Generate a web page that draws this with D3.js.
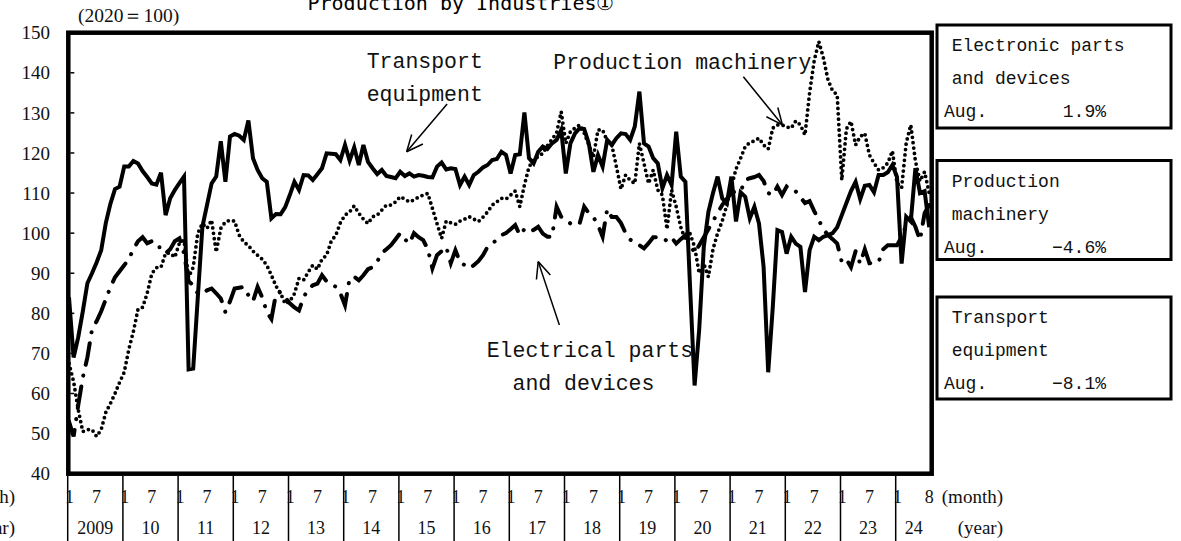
<!DOCTYPE html>
<html>
<head>
<meta charset="utf-8">
<script src="https://cdn.jsdelivr.net/npm/d3@7/dist/d3.min.js"></script>
<style>
  body { margin: 0; background: #fff; }
  svg { display: block; }
  .serif { font-family: "Liberation Serif", "DejaVu Serif", serif; fill: #111; }
  .mono { font-family: "Liberation Mono", "DejaVu Sans Mono", monospace; fill: #111; }
</style>
</head>
<body>
<svg id="chart" width="1181" height="541"></svg>
<script>
// monthly indices (2020=100), Jan 2009 .. Aug 2024
var years = ["2009","10","11","12","13","14","15","16","17","18","19","20","21","22","23","24"];
var yTicks = [40,50,60,70,80,90,100,110,120,130,140,150];

var transport = [
  84, 69, 74, 80.5, 87.5, 90, 92.7, 95.75, 102.5, 107.3, 111, 111.6,
  116.6, 116.6, 118, 117.4, 115.5, 114, 112.4, 112.1, 115.1, 104.5, 108.7, 110.75,
  112.5, 114.1, 66, 66.2, 84, 101.6, 107, 112.4, 114.1, 122.9, 112.8, 124.1,
  124.75, 124.3, 123.25, 128.1, 118.7, 115.75, 113.7, 112.8, 103.7, 104.75, 104.7, 106.5,
  109.5, 112.8, 110.75, 114.5, 114.4, 113.25, 114.7, 116.2, 119.9, 119.8, 119.7, 118.25,
  122, 118.1, 121.4, 117, 122, 117.8, 116.2, 114.75, 115.75, 114.25, 114, 113.7,
  115.3, 114.25, 114.9, 114.1, 114.5, 114.3, 114, 113.9, 116.6, 117.6, 115.9, 116.2,
  116, 112, 114.1, 112, 114.5, 115.3, 116.4, 117, 118.25, 118.5, 120.3, 119.5,
  114.9, 119.5, 119.7, 130.1, 118.7, 117.4, 120.3, 121.6, 121, 122.4, 123.25, 125.75,
  114.9, 122.4, 124.9, 126.2, 126, 122.4, 115.3, 119.5, 116.6, 123.25, 122, 123.7,
  124.9, 124.7, 123.25, 126.6, 135.3, 122.4, 121.6, 118.7, 117.4, 111.2, 114.5, 112,
  125.3, 114.1, 112.8, 87, 62, 76, 96.6, 105.3, 110, 114.1, 108.7, 107.4,
  114.1, 102.9, 110.2, 109.1, 103.7, 106.6, 102.4, 91.6, 65.3, 81.6, 100.75, 100.3,
  94.9, 99.1, 97.4, 96.6, 85.3, 95.75, 99.1, 98.25, 99.1, 99.5, 100, 101.5,
  104.5, 107.5, 110.5, 112.8, 108.5, 111.8, 112, 110.2, 114.5, 114.5, 115.2, 117,
  114, 92.4, 104.1, 102.9, 116.2, 110, 110.5, 101.5
];

var machinery = [
  67.5, 63, 56, 50.5, 51, 51, 49.3, 51, 55.3, 57.5, 60, 62.8,
  65.3, 71, 75.5, 81, 81.5, 85, 89.9, 91.4, 91.5, 95, 95, 94,
  97.5, 98.25, 89, 91.5, 100, 102.4, 101.2, 103.25, 95.3, 101.2, 102.8, 103.25,
  103, 99.5, 97.8, 96.9, 95.5, 94.5, 93.5, 92, 89.5, 86.8, 85, 82.4,
  83, 84.9, 88.7, 88.3, 90.3, 92, 91, 93.5, 94.5, 98, 99.5, 102.6,
  104.5, 105.3, 106.8, 105, 103.5, 102.4, 104.1, 104.5, 105.75, 107, 107, 107.8,
  109.1, 108.5, 107.8, 108.3, 109, 109.5, 109.9, 106.2, 102.4, 98.7, 103, 102.6,
  102.2, 103, 103.5, 104.1, 103.5, 102.9, 104, 105.3, 107, 107.8, 108.7, 108.5,
  109.5, 110.5, 106.6, 112, 116.5, 118.3, 119.1, 119.9, 121.8, 123.4, 125, 130.3,
  122.4, 125.3, 126.2, 127, 125, 122, 119, 125.75, 125.75, 123, 122, 116.6,
  111, 114.5, 113.2, 112.4, 122.4, 117.4, 112.4, 115.75, 110.75, 109.5, 101, 110.75,
  106.6, 101.5, 98.25, 99.9, 96.6, 90, 92.4, 89.1, 96, 100, 103, 107,
  111.6, 116, 118.7, 121.6, 122.6, 123, 123.7, 122, 121, 126.2, 127, 127,
  126.5, 126.2, 128, 127, 124.5, 135, 143, 147.8, 143.7, 138.25, 135.5, 134.5,
  113.25, 126, 127.9, 122, 124.1, 124.9, 119.5, 117.5, 115.75, 116.3, 117.5, 120.5,
  112.5, 111.3, 122.5, 127, 118, 113, 115.3, 110
];

var electronic = [
  53, 49.3, 57, 64, 69, 76, 78, 80.5, 83.5, 86.5, 89, 90.5,
  92, 93.5, 96, 98, 99, 97.5, 98, 96.5, 96.5, 95, 96, 98,
  98.7, 95, 88, 87, 84.9, 84.9, 85.75, 86.2, 85, 83.7, 80.3, 83,
  86.2, 86.4, 86.6, 84.5, 83, 86.6, 84, 80.3, 78.6, 84.9, 85.3, 84,
  82.5, 81.5, 80.75, 84, 86, 87, 87.4, 89.5, 88, 87.4, 86.6, 85,
  82, 88.7, 89.1, 88.25, 89.5, 91, 91.5, 92.9, 95, 96, 97, 98.5,
  100, 98.5, 97.4, 100, 99, 98.25, 96, 91.2, 94.5, 95.5, 96.6, 92.5,
  95.75, 92.8, 92, 91.2, 92, 93, 94.5, 96.6, 97.5, 98.25, 99.5, 100,
  101, 102, 99.5, 101, 100.3, 100.8, 101.6, 99.9, 99.1, 99.1, 106.6, 104.1,
  103.5, 102.4, 102, 102.4, 106.6, 105, 104, 102, 99.1, 106, 104, 104,
  102.5, 100, 98.4, 97.5, 97, 96.2, 97.5, 99, 99, 99, 98, 98.9,
  97.4, 98.5, 99.5, 97.5, 95, 97, 99, 101, 103, 105, 107, 108.5,
  110, 110.5, 110.4, 113.25, 113.7, 114, 114.5, 113, 110, 109.5, 111.6, 109.5,
  111.6, 110.5, 110.4, 109, 107.5, 108, 105.5, 103.25, 101, 99.5, 98.5, 97.4,
  92.8, 93.5, 91.5, 95.5, 92.4, 96, 92.5, 92.6, 92.8, 96, 97, 97,
  97, 99, 102, 104, 101.6, 98.25, 105, 107
];

var boxNames = [["Electronic parts", "and devices"], ["Production", "machinery"], ["Transport", "equipment"]];
var boxChanges = ["1.9%", "\u22124.6%", "\u22128.1%"];

var svg = d3.select("#chart");
var W = 1181, H = 541;
var plot = {left: 68.3, top: 32.7, right: 931.7, bottom: 473.7};

var n = transport.length;
var x = d3.scaleLinear().domain([0, n - 1]).range([69, 929.2]);
var y = d3.scaleLinear().domain([40, 150]).range([plot.bottom, plot.top]);

// title (cut at the top edge, like the source)
svg.append("text")
  .attr("x", 461).attr("y", 10)
  .attr("text-anchor", "middle")
  .attr("font-family", "'DejaVu Sans Mono', monospace")
  .attr("font-size", 20)
  .text("Production by Industries\u2460");

svg.append("text").attr("class", "serif")
  .attr("x", 78).attr("y", 22)
  .attr("font-size", 19.5)
  .text("(2020\uFF1D100)");

// y axis labels + small inner ticks
svg.append("g").selectAll("text")
  .data(yTicks).enter().append("text")
  .attr("class", "serif")
  .attr("x", 50).attr("y", function(d) { return y(d); })
  .attr("dy", "0.35em")
  .attr("text-anchor", "end")
  .attr("font-size", 19)
  .text(function(d) { return d; });

svg.append("g").selectAll("line")
  .data(yTicks.slice(1, -1)).enter().append("line")
  .attr("x1", plot.left + 2).attr("x2", plot.left + 6)
  .attr("y1", function(d) { return y(d); })
  .attr("y2", function(d) { return y(d); })
  .attr("stroke", "#000").attr("stroke-width", 1.5);

// x axis: year cells below the plot
var divX = function(k) { return x(12 * k) - 1.3; };
var gx = svg.append("g");
gx.selectAll("line")
  .data(years).enter().append("line")
  .attr("x1", function(d, k) { return divX(k); })
  .attr("x2", function(d, k) { return divX(k); })
  .attr("y1", plot.bottom + 2).attr("y2", H)
  .attr("stroke", "#000").attr("stroke-width", 1.5);

gx.selectAll("text.m1")
  .data(years).enter().append("text")
  .attr("class", "serif m1")
  .attr("x", function(d, k) { return x(12 * k) + 0.5; })
  .attr("y", 503).attr("text-anchor", "middle").attr("font-size", 18)
  .text("1");

gx.selectAll("text.m7")
  .data(years).enter().append("text")
  .attr("class", "serif m7")
  .attr("x", function(d, k) { return k < years.length - 1 ? x(12 * k + 6) : x(n - 1); })
  .attr("y", 503).attr("text-anchor", "middle").attr("font-size", 18)
  .text(function(d, k) { return k < years.length - 1 ? "7" : String(n - 12 * k); });

gx.selectAll("text.yr")
  .data(years).enter().append("text")
  .attr("class", "serif yr")
  .attr("x", function(d, k) {
    var right = k < years.length - 1 ? divX(k + 1) : plot.right;
    return (divX(k) + right) / 2;
  })
  .attr("y", 534).attr("text-anchor", "middle").attr("font-size", 18)
  .text(function(d) { return d; });

[["(month)", 503], ["(year)", 534]].forEach(function(t) {
  svg.append("text").attr("class", "serif")
    .attr("x", 1003).attr("y", t[1]).attr("text-anchor", "end")
    .attr("font-size", 19).text(t[0]);
  svg.append("text").attr("class", "serif")
    .attr("x", 15).attr("y", t[1]).attr("text-anchor", "end")
    .attr("font-size", 19).text(t[0]);
});

// series
var line = d3.line()
  .x(function(d, i) { return x(i); })
  .y(function(d) { return y(d); });

svg.append("path").datum(electronic)
  .attr("d", line).attr("fill", "none")
  .attr("stroke", "#000").attr("stroke-width", 4)
  .attr("stroke-linecap", "round")
  .attr("stroke-dasharray", "22,11,0.1,11");

svg.append("path").datum(machinery)
  .attr("d", line).attr("fill", "none")
  .attr("stroke", "#000").attr("stroke-width", 3.8)
  .attr("stroke-linecap", "round")
  .attr("stroke-dasharray", "0,5.4");

svg.append("path").datum(transport)
  .attr("d", line).attr("fill", "none")
  .attr("stroke", "#000").attr("stroke-width", 4);

// plot frame
svg.append("rect")
  .attr("x", plot.left).attr("y", plot.top)
  .attr("width", plot.right - plot.left).attr("height", plot.bottom - plot.top)
  .attr("fill", "none").attr("stroke", "#000").attr("stroke-width", 4.5);

// labels with arrows (tip/tail in data units: month index, value)
var notes = [
  {lines: ["Transport", "equipment"], tx: 366.7, ty: 68, tail: [82.2, 132.2], tip: [73.4, 120.3]},
  {lines: ["Production machinery"], tx: 553.3, ty: 69, tail: [146.6, 139], tip: [155.1, 127]},
  {lines: ["Electrical parts", "  and devices"], tx: 486.7, ty: 357, tail: [106.6, 77.1], tip: [102, 92.9]}
];
notes.forEach(function(a) {
  var t = svg.append("text").attr("class", "mono")
    .attr("font-size", 21.5).attr("xml:space", "preserve");
  a.lines.forEach(function(s, j) {
    t.append("tspan").attr("x", a.tx).attr("y", a.ty + j * 33).text(s);
  });
  var x1 = x(a.tail[0]), y1 = y(a.tail[1]), x2 = x(a.tip[0]), y2 = y(a.tip[1]);
  var ang = Math.atan2(y2 - y1, x2 - x1), L = 18, spread = 0.42;
  svg.append("line")
    .attr("x1", x1).attr("y1", y1).attr("x2", x2).attr("y2", y2)
    .attr("stroke", "#000").attr("stroke-width", 1.5);
  [-spread, spread].forEach(function(s) {
    svg.append("line")
      .attr("x1", x2).attr("y1", y2)
      .attr("x2", x2 - L * Math.cos(ang + s)).attr("y2", y2 - L * Math.sin(ang + s))
      .attr("stroke", "#000").attr("stroke-width", 1.5);
  });
});

// boxes with latest month change
var boxTop = [25, 160.5, 297], boxH = [103, 99, 102];
boxNames.forEach(function(nm, b) {
  var g = svg.append("g");
  g.append("rect")
    .attr("x", 937).attr("y", boxTop[b])
    .attr("width", 234).attr("height", boxH[b])
    .attr("fill", "#fff").attr("stroke", "#000").attr("stroke-width", 3);
  var base = boxTop[b] + 26;
  nm.forEach(function(s, j) {
    g.append("text").attr("class", "mono")
      .attr("x", 951.7).attr("y", base + j * 33)
      .attr("font-size", 18).text(s);
  });
  g.append("text").attr("class", "mono")
    .attr("x", 944).attr("y", base + 66)
    .attr("font-size", 18).text("Aug.");
  g.append("text").attr("class", "mono")
    .attr("x", 1106).attr("y", base + 66).attr("text-anchor", "end")
    .attr("font-size", 18).text(boxChanges[b]);
});
</script>
</body>
</html>
